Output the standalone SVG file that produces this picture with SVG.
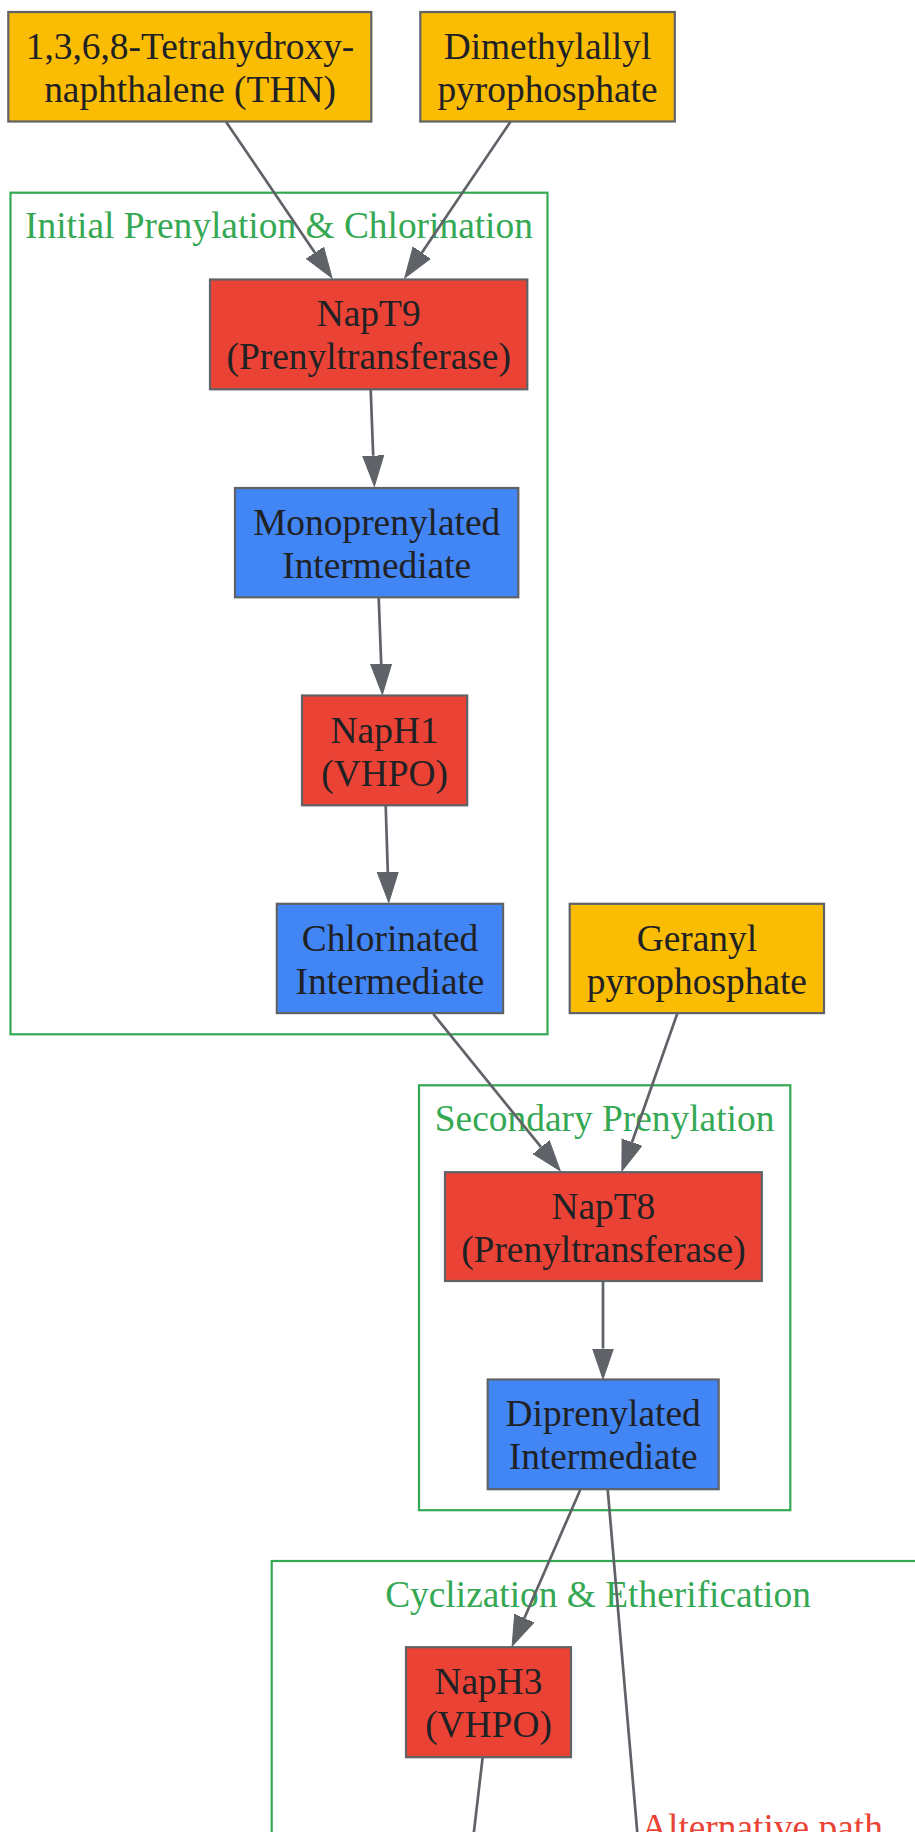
<svg xmlns="http://www.w3.org/2000/svg" width="915" height="1832" viewBox="0 0 915 1832">
<style>
.bg{fill:#ffffff}
.cluster{fill:none;stroke:#34A853;stroke-width:2.2}
.ctitle{fill:#34A853;font-family:"Liberation Serif","Times New Roman",serif;font-size:37.4px;text-anchor:middle}
.node rect{stroke:#5F6368;stroke-width:2.2}
.sub rect{fill:#FBBC04}
.enz rect{fill:#EA4335}
.int rect{fill:#4285F4}
.node text{fill:#202124;font-family:"Liberation Serif","Times New Roman",serif;font-size:37.4px;text-anchor:middle}
.edge{stroke:#5F6368;stroke-width:2.7;fill:none}
.elabel{fill:#EA4335;font-family:"Liberation Serif","Times New Roman",serif;font-size:37.4px}
</style>
<defs>
<marker id="arr" markerUnits="userSpaceOnUse" markerWidth="32" markerHeight="24" refX="0" refY="11" orient="auto" viewBox="0 0 32 22">
<path d="M0,0.5 L30.5,11 L0,21.5 z" fill="#5F6368" stroke="#5F6368" stroke-width="1"/>
</marker>
</defs>
<rect class="bg" x="0" y="0" width="915" height="1832"/>

<g id="clusters">
<g id="cluster_initial">
<rect class="cluster" x="10.5" y="192.7" width="537" height="841.6"/>
<text class="ctitle" x="279" y="238">Initial Prenylation &amp; Chlorination</text>
</g>
<g id="cluster_secondary">
<rect class="cluster" x="419" y="1085.3" width="371.3" height="424.9"/>
<text class="ctitle" x="604.6" y="1130.7">Secondary Prenylation</text>
</g>
<g id="cluster_cyclization">
<rect class="cluster" x="271.7" y="1561" width="652" height="400"/>
<text class="ctitle" x="598" y="1606.7">Cyclization &amp; Etherification</text>
</g>
</g>

<g id="edges">
<line class="edge" x1="226" y1="121.7" x2="314.9" y2="252.7" marker-end="url(#arr)"/>
<line class="edge" x1="510.5" y1="121.7" x2="421.8" y2="252.7" marker-end="url(#arr)"/>
<line class="edge" x1="370.7" y1="389.7" x2="373.2" y2="455.7" marker-end="url(#arr)"/>
<line class="edge" x1="378.7" y1="597.7" x2="381.2" y2="664" marker-end="url(#arr)"/>
<line class="edge" x1="385.7" y1="805.7" x2="387.8" y2="872" marker-end="url(#arr)"/>
<line class="edge" x1="433.3" y1="1014" x2="541.1" y2="1147.2" marker-end="url(#arr)"/>
<line class="edge" x1="677.3" y1="1013.5" x2="632" y2="1142.2" marker-end="url(#arr)"/>
<line class="edge" x1="603" y1="1281.5" x2="603" y2="1348.5" marker-end="url(#arr)"/>
<line class="edge" x1="580.3" y1="1489.7" x2="524.3" y2="1618.2" marker-end="url(#arr)"/>
<line class="edge" x1="482.6" y1="1757.7" x2="471.8" y2="1850"/>
<line class="edge" x1="607.7" y1="1489.7" x2="638.8" y2="1850"/>
<text class="elabel" x="641" y="1839.5">Alternative path</text>
</g>

<g id="THN" class="node sub">
<rect x="8.3" y="12" width="363" height="109.5"/>
<text x="190" y="58.8">1,3,6,8-Tetrahydroxy-</text>
<text x="190" y="101.8">naphthalene (THN)</text>
</g>
<g id="DMAPP" class="node sub">
<rect x="420.3" y="12" width="254.5" height="109.5"/>
<text x="547.5" y="58.8">Dimethylallyl</text>
<text x="547.5" y="101.8">pyrophosphate</text>
</g>
<g id="NapT9" class="node enz">
<rect x="210" y="279.5" width="317.3" height="109.8"/>
<text x="368.7" y="326.4">NapT9</text>
<text x="368.7" y="369.4">(Prenyltransferase)</text>
</g>
<g id="Mono" class="node int">
<rect x="235" y="488" width="283.3" height="109.3"/>
<text x="376.7" y="534.7">Monoprenylated</text>
<text x="376.7" y="577.7">Intermediate</text>
</g>
<g id="NapH1" class="node enz">
<rect x="302" y="695.5" width="165.2" height="109.8"/>
<text x="384.6" y="742.5">NapH1</text>
<text x="384.6" y="785.5">(VHPO)</text>
</g>
<g id="Chlor" class="node int">
<rect x="276.8" y="903.8" width="226.3" height="109.3"/>
<text x="390" y="950.5">Chlorinated</text>
<text x="390" y="993.5">Intermediate</text>
</g>
<g id="GPP" class="node sub">
<rect x="569.7" y="903.8" width="254.3" height="109.3"/>
<text x="696.9" y="950.5">Geranyl</text>
<text x="696.9" y="993.5">pyrophosphate</text>
</g>
<g id="NapT8" class="node enz">
<rect x="445" y="1172.2" width="316.8" height="108.8"/>
<text x="603.4" y="1218.6">NapT8</text>
<text x="603.4" y="1261.6">(Prenyltransferase)</text>
</g>
<g id="Dipren" class="node int">
<rect x="487.7" y="1379.5" width="231" height="109.7"/>
<text x="603.2" y="1426.3">Diprenylated</text>
<text x="603.2" y="1469.3">Intermediate</text>
</g>
<g id="NapH3" class="node enz">
<rect x="406" y="1647.2" width="165" height="110"/>
<text x="488.5" y="1694.2">NapH3</text>
<text x="488.5" y="1737.2">(VHPO)</text>
</g>
</svg>
